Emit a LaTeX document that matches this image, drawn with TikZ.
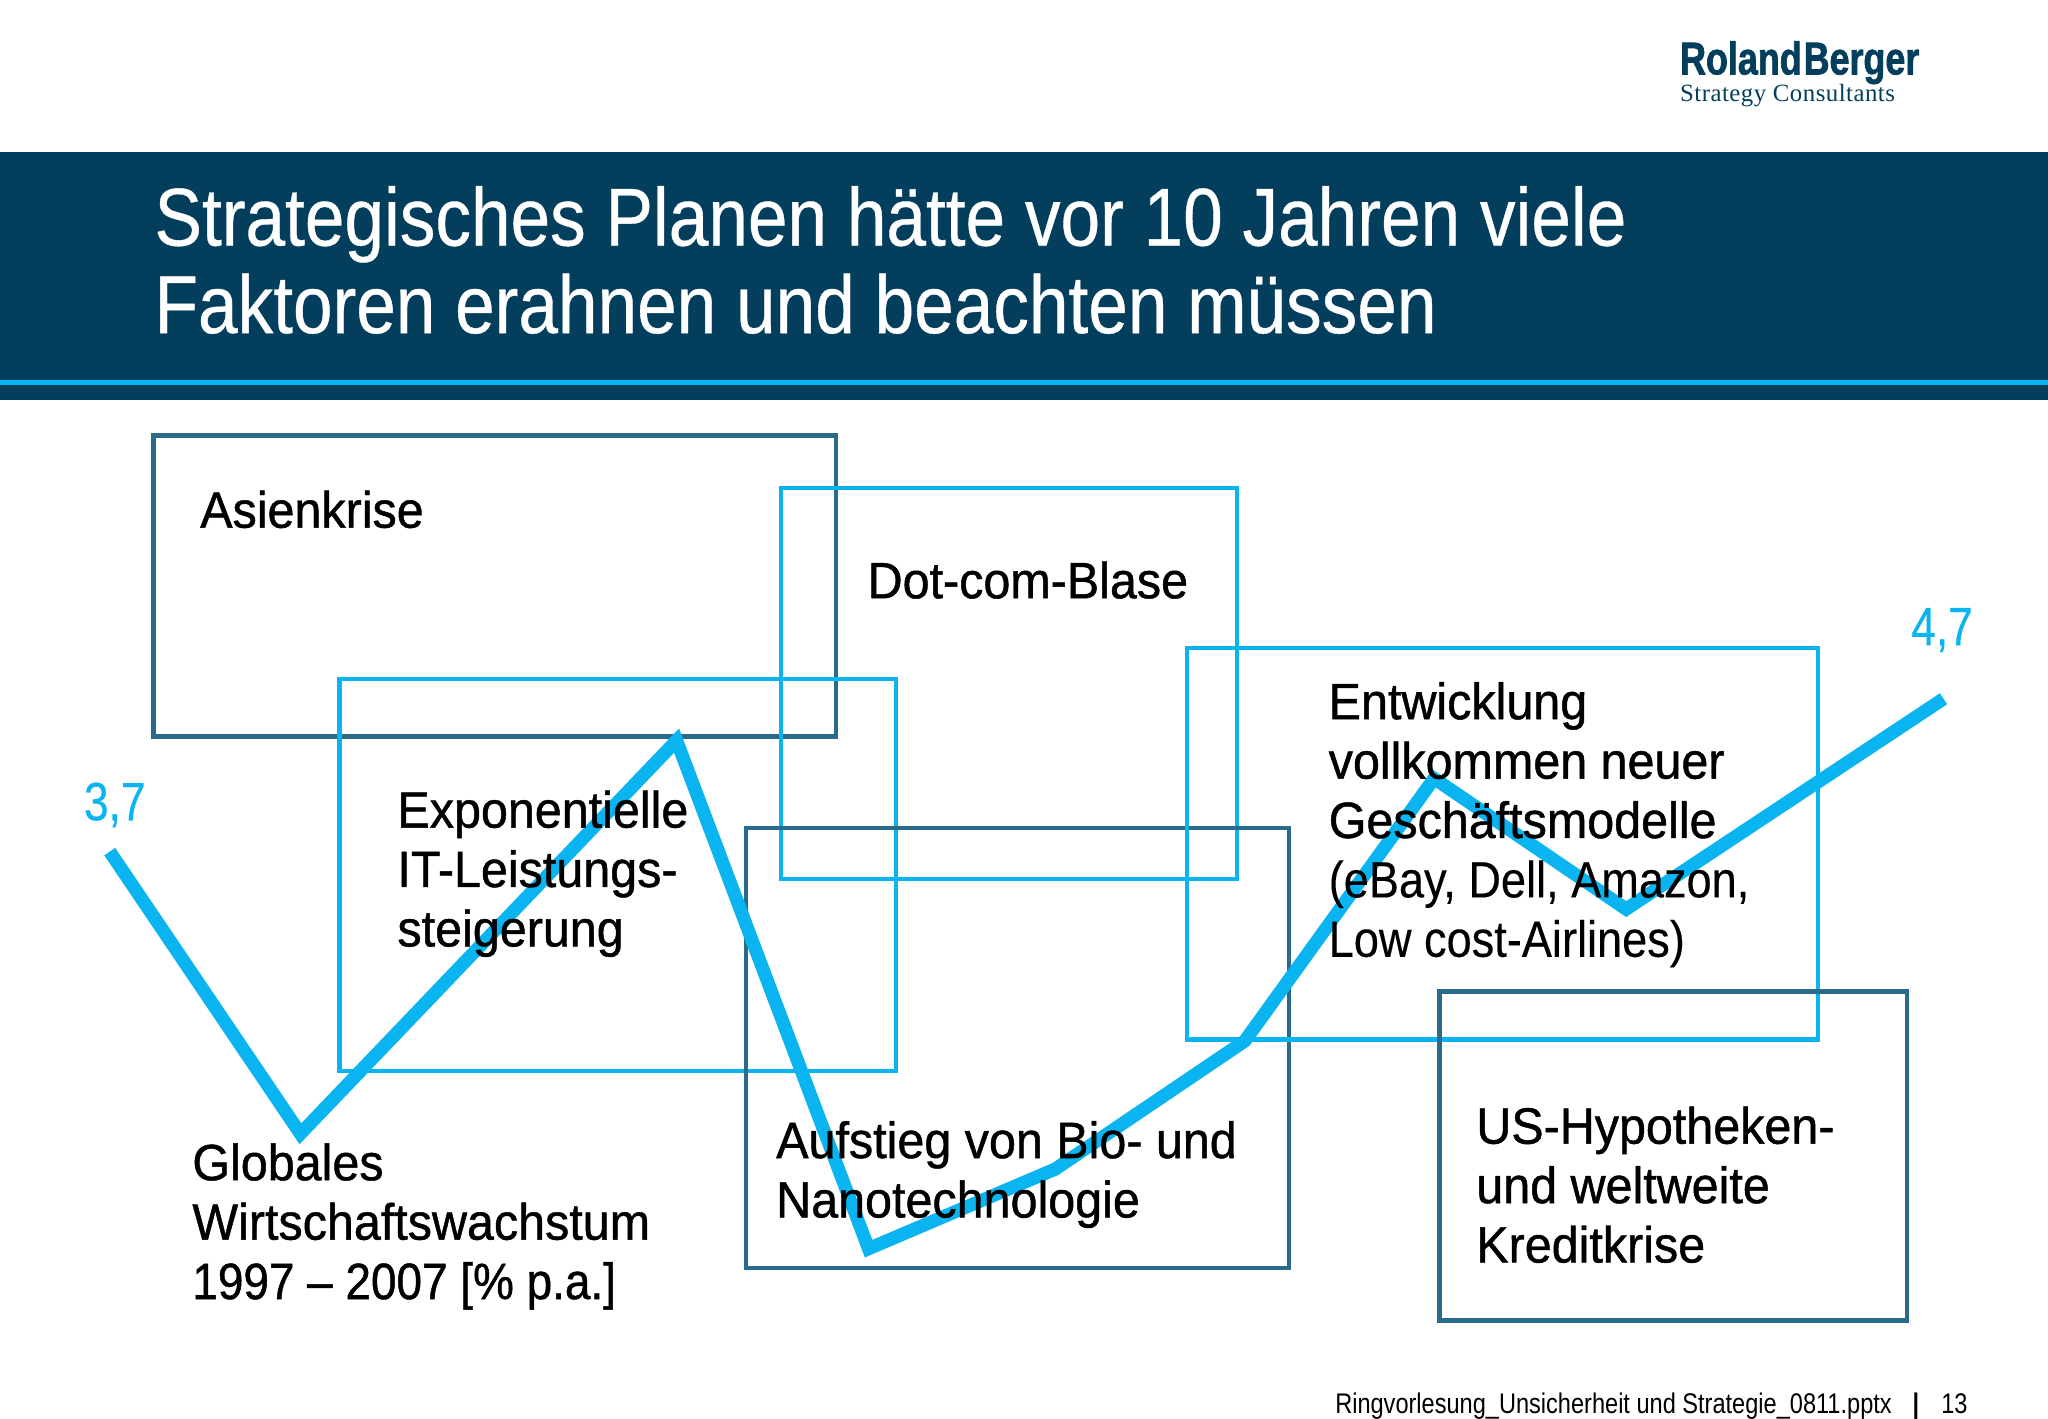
\documentclass[tikz,border=0pt]{standalone}
\usepackage{fontspec}
\setmainfont{Liberation Sans}
\newfontfamily\bodyfont[FakeStretch=0.95,FakeBold=0.9]{Liberation Sans}
\newfontfamily\numfont[FakeStretch=0.9,FakeBold=0.9]{Liberation Sans}
\newfontfamily\regfont[FakeStretch=0.885,FakeBold=0.2]{Liberation Sans}
\newfontfamily\valfont[FakeStretch=0.82,FakeBold=0.35]{Liberation Sans}
\newfontfamily\footfont[FakeStretch=0.83]{Liberation Sans}
\newfontfamily\titlefont[FakeStretch=0.868,FakeBold=0.45]{Liberation Sans}
\newfontfamily\logofont[FakeStretch=0.78,FakeBold=1.4]{Liberation Sans Bold}
\newfontfamily\logosub[FakeStretch=1.0,LetterSpace=2]{Liberation Serif}
\definecolor{navy}{HTML}{033F5C}
\definecolor{sky}{HTML}{0AB4F0}
\definecolor{steel}{HTML}{2A6A8A}
\tikzset{
  darkbox/.style={draw=steel,line width=2.2pt},
  lightbox/.style={draw=sky,line width=2.2pt},
  body/.style={anchor=base west,inner sep=0pt,align=left,text=black,font=\bodyfont\fontsize{25.5}{29.7}\selectfont},
  val/.style={anchor=base west,inner sep=0pt,text=sky,font=\valfont\fontsize{27}{30}\selectfont},
  title/.style={anchor=base west,inner sep=0pt,text=white,font=\titlefont\fontsize{41}{44.4}\selectfont},
}
\begin{document}
\begin{tikzpicture}[x=0.653pt,y=-0.653pt]
\useasboundingbox (0,0) rectangle (1568,1085.8);
\fill[white] (0,0) rectangle (1568,1085.8);
\fill[navy] (0,116) rectangle (1568,306.5);
\fill[sky] (0,291) rectangle (1568,295);
\draw[darkbox] (117.5,333.5) rectangle (640,564);
\draw[lightbox] (598,373.5) rectangle (947,673);
\draw[lightbox] (260,520) rectangle (686,820);
\draw[darkbox] (571,634) rectangle (987,971);
\draw[lightbox] (909,496) rectangle (1392,796);
\draw[darkbox] (1102,759) rectangle (1460,1011);
\coordinate (p1) at (84,652);
\coordinate (p2) at (230,868);
\coordinate (p3) at (518,567);
\coordinate (p4) at (665,956);
\coordinate (p5) at (808,895);
\coordinate (p6) at (953,797);
\coordinate (p7) at (1098,596);
\coordinate (p8) at (1245,696);
\coordinate (p9) at (1488,535);
\draw[sky,line width=6.6pt,line join=miter] (p1)--(p2)--(p3)--(p4)--(p5)--(p6)--(p7)--(p8)--(p9);
\node[title] (ttl1) at (118,188) {Strategisches Planen hätte vor 10 Jahren viele};
\node[title] (ttl2) at (118,255) {Faktoren erahnen und beachten müssen};
\node[anchor=base west,inner sep=0pt,text=navy,font=\logofont\fontsize{23}{23}\selectfont] (logo1) at (1286,57) {Roland\kern1pt Berger};
\node[anchor=base west,inner sep=0pt,text=navy,font=\logosub\fontsize{12.4}{13}\selectfont] (logo2) at (1286,78) {Strategy Consultants};
\node[body] (asien) at (153,404) {Asienkrise};
\node[body] (dot) at (664,458) {Dot-com-Blase};
\node[body,anchor=north west] (expo) at (304,605) {Exponentielle\\IT-Leistungs-\\steigerung};
\node[body,anchor=north west] (entw) at (1017,522) {Entwicklung\\vollkommen neuer\\Geschäftsmodelle\\{\regfont (eBay, Dell, Amazon,}\\{\regfont Low cost-Airlines)}};
\node[body,anchor=north west] (glob) at (147,875) {Globales\\Wirtschaftswachstum\\{\numfont 1997 – 2007 [\% p.a.]}};
\node[body,anchor=north west] (bio) at (594,858) {Aufstieg von Bio- und\\Nanotechnologie};
\node[body,anchor=north west] (us) at (1130,847) {US-Hypotheken-\\und weltweite\\Kreditkrise};
\node[val] (v1) at (64,628) {3,7};
\node[val] (v2) at (1463,494) {4,7};
\node[anchor=base west,inner sep=0pt,font=\footfont\fontsize{14.2}{16}\selectfont] (foot) at (1022,1082) {Ringvorlesung\_Unsicherheit und Strategie\_0811.pptx};
\node[anchor=base west,inner sep=0pt,font=\footfont\bfseries\fontsize{14.2}{16}\selectfont] (bar) at (1464,1082) {|};
\node[anchor=base west,inner sep=0pt,font=\footfont\fontsize{14.2}{16}\selectfont] (pg) at (1486,1082) {13};
\end{tikzpicture}
\end{document}
